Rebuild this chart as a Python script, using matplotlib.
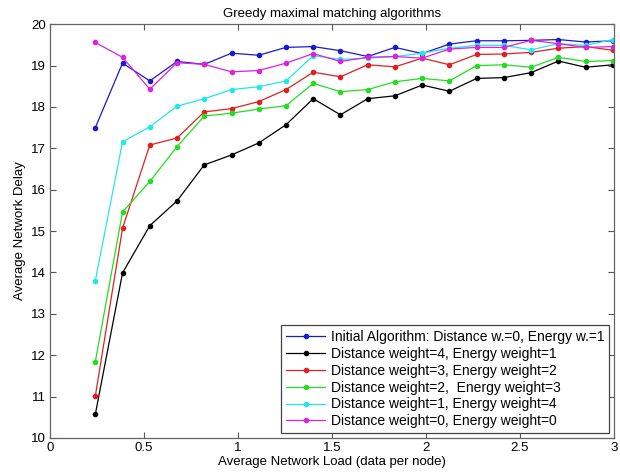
import matplotlib
matplotlib.use("Agg")
import matplotlib.pyplot as plt

plt.rcParams['font.family'] = ['Liberation Sans', 'DejaVu Sans']

# average network load (data per node)
load = [0.24, 0.385, 0.53, 0.675, 0.82, 0.965, 1.11, 1.255, 1.40, 1.545,
        1.69, 1.835, 1.98, 2.125, 2.27, 2.415, 2.56, 2.705, 2.85, 2.995]

initial = [17.50, 19.06, 18.63, 19.10, 19.03, 19.30, 19.25, 19.44, 19.46, 19.36,
           19.22, 19.44, 19.29, 19.52, 19.60, 19.60, 19.61, 19.63, 19.57, 19.60]
dw4_ew1 = [10.57, 13.99, 15.13, 15.73, 16.60, 16.84, 17.13, 17.57, 18.20, 17.81,
           18.20, 18.27, 18.53, 18.38, 18.69, 18.71, 18.83, 19.11, 18.96, 19.02]
dw3_ew2 = [11.01, 15.07, 17.08, 17.25, 17.88, 17.96, 18.13, 18.42, 18.84, 18.73,
           19.02, 18.97, 19.18, 19.02, 19.27, 19.28, 19.32, 19.42, 19.46, 19.37]
dw2_ew3 = [11.84, 15.46, 16.20, 17.04, 17.78, 17.85, 17.95, 18.03, 18.57, 18.37,
           18.42, 18.61, 18.69, 18.63, 19.00, 19.02, 18.96, 19.20, 19.10, 19.12]
dw1_ew4 = [13.80, 17.16, 17.52, 18.02, 18.20, 18.42, 18.49, 18.63, 19.24, 19.15,
           19.18, 19.22, 19.30, 19.42, 19.49, 19.49, 19.38, 19.53, 19.49, 19.63]
dw0_ew0 = [19.56, 19.20, 18.43, 19.07, 19.03, 18.85, 18.88, 19.06, 19.29, 19.10,
           19.20, 19.22, 19.18, 19.40, 19.44, 19.44, 19.61, 19.53, 19.44, 19.46]

labels = ['Initial Algorithm: Distance w.=0, Energy w.=1',
          'Distance weight=4, Energy weight=1',
          'Distance weight=3, Energy weight=2',
          'Distance weight=2,  Energy weight=3',
          'Distance weight=1, Energy weight=4',
          'Distance weight=0, Energy weight=0']
series = [initial, dw4_ew1, dw3_ew2, dw2_ew3, dw1_ew4, dw0_ew0]
colors = ['#1a1acc', 'k', '#e02020', '#22dd22', '#22e8e8', '#dd22dd']

fig = plt.figure(figsize=(6.2, 4.75), dpi=100)
ax = fig.add_axes([0.081, 0.078, 0.909, 0.871])

for ys, col, lab in zip(series, colors, labels):
    ax.plot(load, ys, '-', color=col, marker='.', markersize=6, linewidth=0.9, label=lab)

ax.set_xlim(0, 3)
ax.set_ylim(10, 20)
ax.set_xticks([0, 0.5, 1, 1.5, 2, 2.5, 3])
ax.set_xticklabels(['0', '0.5', '1', '1.5', '2', '2.5', '3'])
ax.set_yticks(range(10, 21))
ax.tick_params(direction='in', top=True, right=True, labelsize=9.5, length=4, color='#555555', pad=3)
for s in ax.spines.values():
    s.set_color('#666666')
    s.set_linewidth(0.9)

ax.set_title('Greedy maximal matching algorithms', fontsize=9.5, pad=5)
ax.set_xlabel('Average Network Load (data per node)', fontsize=9.5, labelpad=1)
ax.set_ylabel('Average Network Delay', fontsize=9.5, labelpad=4)

leg = ax.legend(loc='lower right', fontsize=10, fancybox=False, framealpha=1,
                edgecolor='#444444', handlelength=2.8, borderaxespad=0.35,
                labelspacing=0.2, handletextpad=0.4, borderpad=0.35)
leg.get_frame().set_linewidth(0.9)

fig.savefig('out.png', dpi=100)
